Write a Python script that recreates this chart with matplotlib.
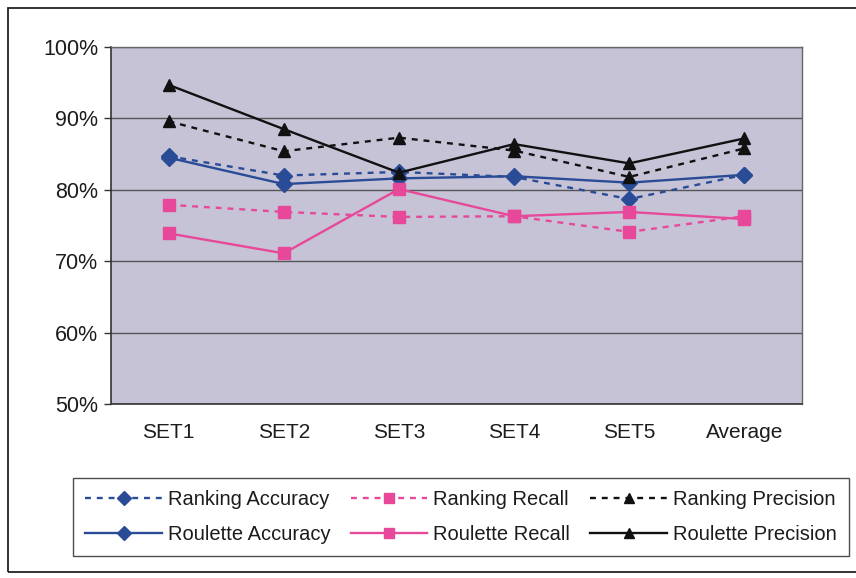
import matplotlib
matplotlib.use("Agg")
import matplotlib.pyplot as plt
from matplotlib.patches import Rectangle
from matplotlib.ticker import FuncFormatter

plt.rcParams['font.family'] = ['Liberation Sans', 'DejaVu Sans']

categories = ["SET1", "SET2", "SET3", "SET4", "SET5", "Average"]

ranking_accuracy = [84.7, 82.0, 82.5, 81.8, 78.7, 82.1]
roulette_accuracy = [84.5, 80.8, 81.6, 81.9, 81.0, 82.1]
ranking_recall = [77.9, 76.9, 76.2, 76.3, 74.1, 76.3]
roulette_recall = [73.9, 71.1, 80.1, 76.3, 76.9, 75.9]
ranking_precision = [89.6, 85.4, 87.3, 85.5, 81.8, 85.8]
roulette_precision = [94.7, 88.5, 82.4, 86.4, 83.7, 87.2]

y_ticks = [50, 60, 70, 80, 90, 100]

BLUE = "#2a4b95"
PINK = "#e8489a"
BLACK = "#111111"
TEXT = "#1c1c1c"

W, H = 856, 578
fig = plt.figure(figsize=(W / 100, H / 100), dpi=100)
fig.patch.set_facecolor("white")

# outer chart frame (right edge runs off the canvas)
fig.add_artist(Rectangle((8 / W, 6 / H), (W + 20) / W, (H - 14) / H,
                         transform=fig.transFigure, fill=False,
                         edgecolor="#222222", linewidth=1.3))

ax = fig.add_axes([111 / W, 1 - 404 / H, 691 / W, 357 / H])
ax.set_facecolor("#c6c3d7")

x = list(range(len(categories)))
dotted = (0, (2.5, 2.5))
series = [
    (ranking_accuracy, "Ranking Accuracy", BLUE, "D", dotted),
    (roulette_accuracy, "Roulette Accuracy", BLUE, "D", "-"),
    (ranking_recall, "Ranking Recall", PINK, "s", dotted),
    (roulette_recall, "Roulette Recall", PINK, "s", "-"),
    (ranking_precision, "Ranking Precision", BLACK, "^", dotted),
    (roulette_precision, "Roulette Precision", BLACK, "^", "-"),
]
handles = []
for vals, label, color, marker, ls in series:
    h, = ax.plot(x, vals, color=color, linestyle=ls, linewidth=1.7,
                 marker=marker, markersize=8.5, markerfacecolor=color,
                 markeredgecolor=color, label=label, zorder=3)
    handles.append(h)

ax.set_xlim(-0.5, len(categories) - 0.5)
ax.set_ylim(50, 100)
ax.set_yticks(y_ticks)
ax.yaxis.set_major_formatter(FuncFormatter(lambda v, p: f"{int(v)}%"))
ax.set_xticks(x)
ax.set_xticklabels(categories)
ax.grid(axis="y", color="#555555", linewidth=1.0)
ax.set_axisbelow(True)
for side in ["top", "right"]:
    ax.spines[side].set_color("#666666")
    ax.spines[side].set_linewidth(1.0)
for side in ["left", "bottom"]:
    ax.spines[side].set_color("#333333")
    ax.spines[side].set_linewidth(1.2)
ax.tick_params(axis="y", length=5, width=1, color="#333333",
               labelsize=15.5, pad=4, labelcolor=TEXT)
ax.tick_params(axis="x", length=0, labelsize=15, pad=14, labelcolor=TEXT)

leg = fig.legend(handles=handles, loc="center",
                 bbox_to_anchor=(461 / W, 1 - 517 / H),
                 ncol=3, fontsize=14.5, frameon=True, fancybox=False,
                 edgecolor="#222222", handlelength=3.8, handletextpad=0.3,
                 columnspacing=1.0, labelspacing=0.75, borderpad=0.6,
                 borderaxespad=0, markerscale=0.85)
leg.get_frame().set_linewidth(1.0)
for t in leg.get_texts():
    t.set_color(TEXT)

fig.savefig("out.png", dpi=100, facecolor="white")
